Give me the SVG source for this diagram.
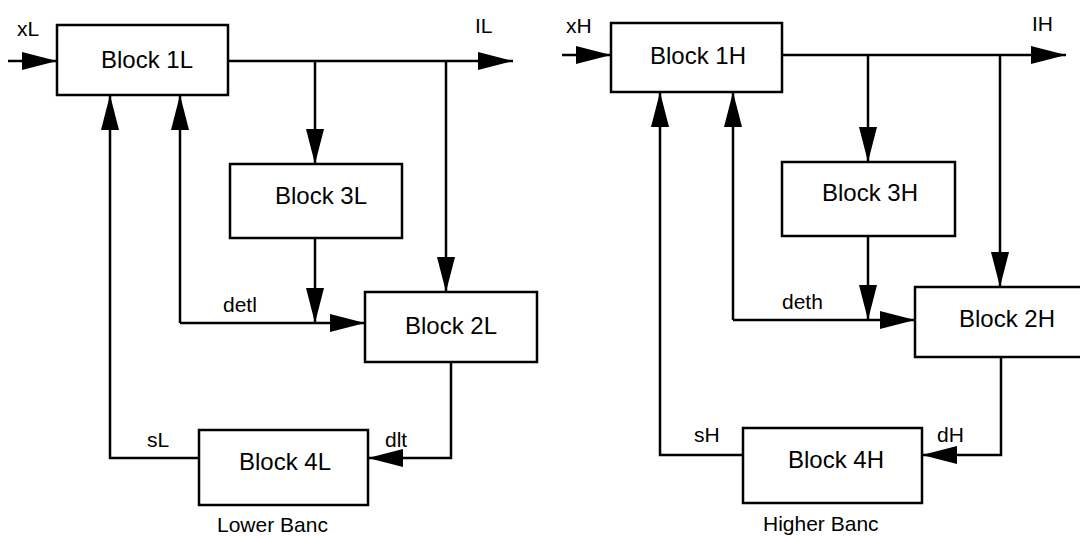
<svg xmlns="http://www.w3.org/2000/svg" width="1080" height="538" viewBox="0 0 1080 538">
<style>
.box{fill:#fff;stroke:#000;stroke-width:2.5}
.ln{fill:none;stroke:#000;stroke-width:2.5}
.t{font-family:"Liberation Sans",Arial,sans-serif;font-size:24px;fill:#000;text-anchor:middle}
.s{font-family:"Liberation Sans",Arial,sans-serif;font-size:21px;fill:#000}
</style>
<defs>
<marker id="ah" markerUnits="userSpaceOnUse" markerWidth="36" markerHeight="18" refX="35" refY="9" orient="auto" viewBox="0 0 36 18">
<path d="M0,0 L35,9 L0,18 Z" fill="#000"/>
</marker>
</defs>
<rect width="1080" height="538" fill="#fff"/>
<g id="connectors">
<path class="ln" d="M8,61 L57,61" marker-end="url(#ah)"/>
<path class="ln" d="M228,61 L513,61" marker-end="url(#ah)"/>
<path class="ln" d="M315,61 L315,164" marker-end="url(#ah)"/>
<path class="ln" d="M446,61 L446,292" marker-end="url(#ah)"/>
<path class="ln" d="M315,238 L315,323" marker-end="url(#ah)"/>
<path class="ln" d="M180,323 L365,323" marker-end="url(#ah)"/>
<path class="ln" d="M180,323 L180,95" marker-end="url(#ah)"/>
<path class="ln" d="M199,458 L110,458 L110,95" marker-end="url(#ah)"/>
<path class="ln" d="M451,362 L451,458 L368,458" marker-end="url(#ah)"/>
<path class="ln" d="M562,55 L611,55" marker-end="url(#ah)"/>
<path class="ln" d="M782,55 L1066,55" marker-end="url(#ah)"/>
<path class="ln" d="M868,55 L868,162" marker-end="url(#ah)"/>
<path class="ln" d="M1000,55 L1000,287" marker-end="url(#ah)"/>
<path class="ln" d="M868,236 L868,320" marker-end="url(#ah)"/>
<path class="ln" d="M733,320 L915,320" marker-end="url(#ah)"/>
<path class="ln" d="M733,320 L733,92" marker-end="url(#ah)"/>
<path class="ln" d="M743,455 L660,455 L660,92" marker-end="url(#ah)"/>
<path class="ln" d="M1001,357 L1001,455 L922,455" marker-end="url(#ah)"/>
</g>
<g id="block1L"><rect class="box" x="57" y="25" width="171" height="70"/><text class="t" x="147" y="68">Block 1L</text></g>
<g id="block3L"><rect class="box" x="230" y="164" width="172" height="74"/><text class="t" x="321" y="204">Block 3L</text></g>
<g id="block2L"><rect class="box" x="365" y="292" width="172" height="70"/><text class="t" x="451" y="334">Block 2L</text></g>
<g id="block4L"><rect class="box" x="199" y="430" width="169" height="75"/><text class="t" x="285" y="470">Block 4L</text></g>
<g id="block1H"><rect class="box" x="611" y="23" width="171" height="69"/><text class="t" x="698" y="64">Block 1H</text></g>
<g id="block3H"><rect class="box" x="782" y="162" width="173" height="74"/><text class="t" x="870" y="201">Block 3H</text></g>
<g id="block2H"><rect class="box" x="915" y="287" width="175" height="70"/><text class="t" x="1007" y="327">Block 2H</text></g>
<g id="block4H"><rect class="box" x="743" y="428" width="179" height="75"/><text class="t" x="836" y="468">Block 4H</text></g>
<g id="labels">
<text class="s" x="17" y="36">xL</text>
<text class="s" x="475" y="33">IL</text>
<text class="s" x="223" y="312">detl</text>
<text class="s" x="147" y="447">sL</text>
<text class="s" x="385" y="447">dlt</text>
<text class="s" x="566" y="33">xH</text>
<text class="s" x="1032" y="31">IH</text>
<text class="s" x="782" y="309">deth</text>
<text class="s" x="694" y="442">sH</text>
<text class="s" x="937" y="442">dH</text>
<text class="s" x="217" y="532">Lower Banc</text>
<text class="s" x="763" y="531">Higher Banc</text>
</g>
</svg>
